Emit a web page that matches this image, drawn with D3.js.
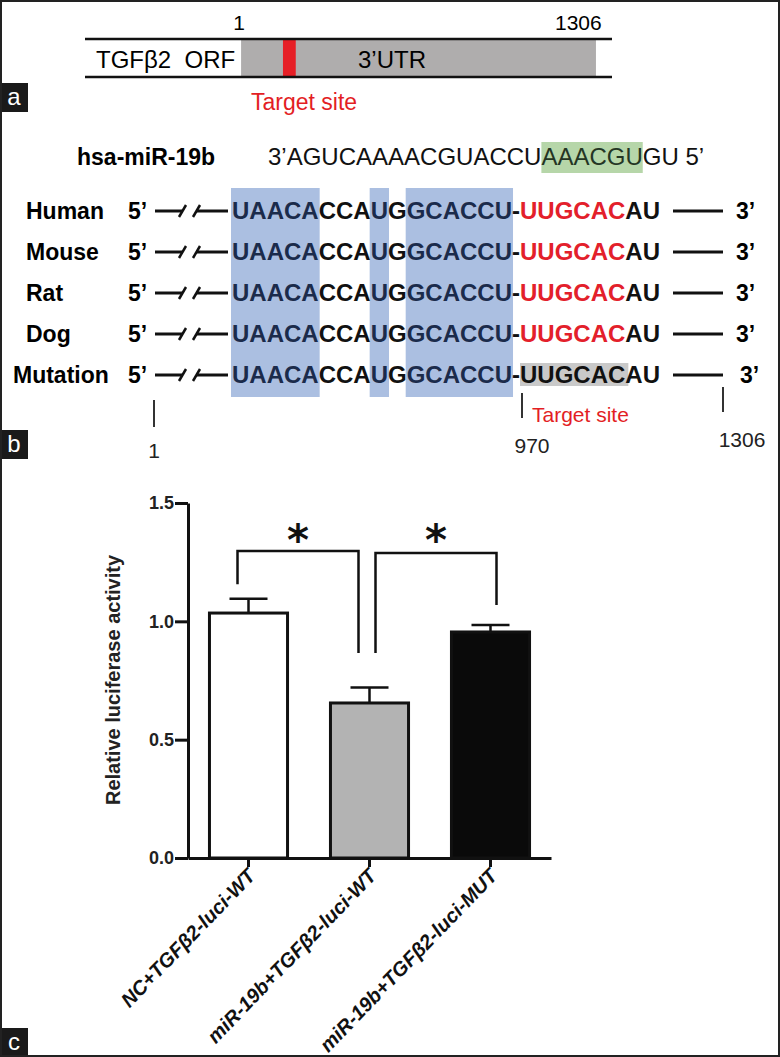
<!DOCTYPE html>
<html>
<head>
<meta charset="utf-8">
<script src="https://cdn.jsdelivr.net/npm/d3@7"></script>
<style>
body{margin:0;background:#fff;}
svg{display:block;font-family:"Liberation Sans",Arial,sans-serif;}
</style>
</head>
<body>
<div id="container"></div>
<script>
// ---- panel a data
const utrBounds=[1,1306];
const diagramExtent=[-573,1365];
const targetSpan=[155,202];
const orfLabel="TGFβ2  ORF";
const utrLabel="3’UTR";

// ---- panel b data
const species=["Human","Mouse","Rat","Dog","Mutation"];
const mirName="hsa-miR-19b";
const mirParts=["3’AGUCAAAACGUACCU","AAACGU","GU 5’"];
const utrParts=["UAACA","CCA","U","G","GCACCU","-","UUGCAC","AU"];
const utrRole=["cons","plain","cons","plain","cons","plain","seed","plain"];
const markerLabels=["1","970","1306"];

// ---- panel c data
const groups=["NC+TGFβ2-luci-WT","miR-19b+TGFβ2-luci-WT","miR-19b+TGFβ2-luci-MUT"];
const means=[1.035,0.655,0.955];
const sems=[0.06,0.065,0.03];
const barFills=["#ffffff","#b3b3b3","#0a0a0a"];
const yTicks=[0,0.5,1.0,1.5];
const pairs=[[0,1],[1,2]];
const bracketTop=[1.297,1.289];
const legLeft=[1.157,0.866];
const legRight=[0.866,1.069];
const starLevel=1.373;

const w=780, h=1057;
const svg=d3.select("#container").append("svg").attr("width",w).attr("height",h);
svg.append("rect").attr("width",w).attr("height",h).attr("fill","#fff");

function measure(str, size, weight){
	const t=svg.append("text").attr("font-size",size).attr("font-weight",weight).text(str);
	const len=t.node().getComputedTextLength();
	t.remove();
	return len;
}

//Panel a: gene diagram
const gx=d3.scaleLinear().domain(diagramExtent).range([85,612]);
const pa=svg.append("g");
pa.append("rect")
	.attr("x",gx(utrBounds[0])).attr("y",39)
	.attr("width",gx(utrBounds[1])-gx(utrBounds[0])).attr("height",38)
	.attr("fill","#afadad");
pa.append("rect")
	.attr("x",gx(targetSpan[0])).attr("y",39)
	.attr("width",gx(targetSpan[1])-gx(targetSpan[0])).attr("height",38)
	.attr("fill","#e61f26");
[39,77].forEach(yy=>{
	pa.append("line").attr("x1",gx(diagramExtent[0])).attr("x2",gx(diagramExtent[1]))
		.attr("y1",yy).attr("y2",yy).attr("stroke","#111").attr("stroke-width",2.5);
});
pa.append("text").attr("x",96).attr("y",68).attr("font-size",24).attr("xml:space","preserve").text(orfLabel);
pa.append("text").attr("x",358).attr("y",68).attr("font-size",24).text(utrLabel);
pa.append("text").attr("x",gx(utrBounds[0])-2).attr("y",30).attr("font-size",21).attr("text-anchor","middle").text(utrBounds[0]);
pa.append("text").attr("x",555).attr("y",30).attr("font-size",21).text(utrBounds[1]);
pa.append("text").attr("x",251).attr("y",110).attr("font-size",23).attr("fill","#e31e24").text("Target site");

//Panel b: alignment
const pb=svg.append("g");
const rowY=d3.scalePoint().domain(species).range([219,383]);
const seqX=232, seqSize=24;

// offsets of each part along the sequence
let acc=0;
const partX=utrParts.map(p=>{const x0=acc; acc+=measure(p,seqSize,"bold"); return x0;});
const partW=utrParts.map(p=>measure(p,seqSize,"bold"));

// conserved boxes over all rows
utrParts.forEach((p,i)=>{
	if(utrRole[i]!=="cons") return;
	pb.append("rect")
		.attr("x",seqX+partX[i]-1).attr("y",rowY(species[0])-31)
		.attr("width",partW[i]+2).attr("height",rowY(species[species.length-1])-rowY(species[0])+45)
		.attr("fill","#abbfe1");
});

// miRNA line
let mAcc=0;
const mirX=mirParts.map(p=>{const x0=mAcc; mAcc+=measure(p,24,"normal"); return x0;});
pb.append("rect")
	.attr("x",268+mirX[1]).attr("y",142)
	.attr("width",mirX[2]-mirX[1]).attr("height",31)
	.attr("fill","#b6d6a9");
mirParts.forEach((p,i)=>{
	pb.append("text").attr("x",268+mirX[i]).attr("y",165).attr("font-size",24)
		.attr("fill",i===1?"#243524":"#111").attr("xml:space","preserve").text(p);
});
pb.append("text").attr("x",77).attr("y",165).attr("font-size",23).attr("font-weight","bold").text(mirName);

species.forEach(sp=>{
	const by=rowY(sp);
	const mut=sp==="Mutation";
	pb.append("text").attr("x",mut?13:26).attr("y",by).attr("font-size",23).attr("font-weight","bold").text(sp);
	pb.append("text").attr("x",128).attr("y",by).attr("font-size",23).attr("font-weight","bold").text("5’");
	const ly=by-8;
	const g=pb.append("g").attr("stroke","#111").attr("stroke-width",3);
	g.append("line").attr("x1",155).attr("x2",183).attr("y1",ly).attr("y2",ly);
	g.append("line").attr("x1",179).attr("x2",186).attr("y1",ly+6).attr("y2",ly-6).attr("stroke-width",2.5);
	g.append("line").attr("x1",193).attr("x2",200).attr("y1",ly+6).attr("y2",ly-6).attr("stroke-width",2.5);
	g.append("line").attr("x1",196).attr("x2",228).attr("y1",ly).attr("y2",ly);
	g.append("line").attr("x1",673).attr("x2",723).attr("y1",ly).attr("y2",ly);
	pb.append("text").attr("x",mut?740:736).attr("y",by).attr("font-size",23).attr("font-weight","bold").text("3’");

	utrParts.forEach((p,i)=>{
		const role=utrRole[i];
		if(mut && role==="seed"){
			pb.append("rect").attr("x",seqX+partX[i]).attr("y",by-20)
				.attr("width",partW[i]+3).attr("height",23).attr("fill","#c9c9c9");
		}
		let col="#111";
		if(role==="cons") col="#1b2b4b";
		if(role==="seed" && !mut) col="#e3202b";
		pb.append("text").attr("x",seqX+partX[i]).attr("y",by)
			.attr("font-size",seqSize).attr("font-weight","bold").attr("fill",col).text(p);
	});
});

// position markers
const markers=[{x:154,y1:400,y2:427,ty:458,dx:0},{x:522,y1:393,y2:418,ty:453,dx:10},{x:723,y1:387,y2:412,ty:447,dx:19}];
markers.forEach((m,i)=>{
	pb.append("line").attr("x1",m.x).attr("x2",m.x).attr("y1",m.y1).attr("y2",m.y2)
		.attr("stroke","#333").attr("stroke-width",2);
	pb.append("text").attr("x",m.x+m.dx).attr("y",m.ty).attr("font-size",21)
		.attr("text-anchor","middle").attr("fill","#222").text(markerLabels[i]);
});
pb.append("text").attr("x",532).attr("y",422).attr("font-size",21).attr("fill","#e31e24").text("Target site");

//Panel c: bar chart
const pc=svg.append("g");
const y=d3.scaleLinear().domain([0,1.5]).range([858,503]);
const x=d3.scaleBand().domain(groups).range([188,551]).paddingInner(0.33).paddingOuter(0.165);

pc.selectAll("rect.bar")
	.data(groups)
	.enter()
	.append("rect")
		.attr("class","bar")
		.attr("x",d=>x(d)+1.5)
		.attr("y",(d,i)=>y(means[i]))
		.attr("width",x.bandwidth()-3)
		.attr("height",(d,i)=>y(0)-y(means[i]))
		.attr("fill",(d,i)=>barFills[i])
		.attr("stroke","#111").attr("stroke-width",3);

const err=pc.append("g").attr("stroke","#111").attr("stroke-width",2.5);
groups.forEach((d,i)=>{
	const cx=x(d)+x.bandwidth()/2;
	err.append("line").attr("x1",cx).attr("x2",cx).attr("y1",y(means[i])).attr("y2",y(means[i]+sems[i]));
	err.append("line").attr("x1",cx-19).attr("x2",cx+19).attr("y1",y(means[i]+sems[i])).attr("y2",y(means[i]+sems[i]));
});

const yAxis=d3.axisLeft(y).tickValues(yTicks).tickFormat(d3.format(".1f")).tickSize(13).tickSizeOuter(0);
const yAxisGroup=pc.append("g").attr("transform","translate(188,0)").call(yAxis);
yAxisGroup.select(".domain").attr("stroke","#111").attr("stroke-width",3);
yAxisGroup.selectAll(".tick line").attr("stroke","#111").attr("stroke-width",3);
yAxisGroup.selectAll(".tick text").attr("font-size",18).attr("font-weight","bold")
	.attr("font-family","Liberation Sans, Arial, sans-serif").attr("fill","#222").attr("x",-14);

const xAxis=d3.axisBottom(x).tickSize(9).tickSizeOuter(0);
const xAxisGroup=pc.append("g").attr("transform","translate(0,858)").call(xAxis);
xAxisGroup.select(".domain").attr("stroke","#111").attr("stroke-width",3);
xAxisGroup.selectAll(".tick line").attr("stroke","#111").attr("stroke-width",3);
xAxisGroup.selectAll(".tick text")
	.attr("font-size",20).attr("font-weight","bold").attr("font-style","italic")
	.attr("font-family","Liberation Sans, Arial, sans-serif").attr("fill","#111")
	.attr("x",0).attr("y",0).attr("dy","0.35em")
	.attr("transform","translate(3,14) rotate(-46)")
	.style("text-anchor","end");

pc.append("text")
	.attr("transform","translate(120,680) rotate(-90)")
	.attr("text-anchor","middle").attr("font-size",20).attr("font-weight","bold").attr("fill","#222")
	.text("Relative luciferase activity");

// significance brackets
const shift=[-11,6];
pairs.forEach((pr,k)=>{
	const xa=x(groups[pr[0]])+x.bandwidth()/2+shift[k];
	const xb=x(groups[pr[1]])+x.bandwidth()/2+shift[k];
	pc.append("path")
		.attr("d",`M${xa},${y(legLeft[k])}V${y(bracketTop[k])}H${xb}V${y(legRight[k])}`)
		.attr("fill","none").attr("stroke","#111").attr("stroke-width",2.5);
	pc.append("text").attr("x",(xa+xb)/2).attr("y",y(starLevel)+22)
		.attr("text-anchor","middle").attr("font-size",42).attr("font-weight","bold").attr("font-family","DejaVu Sans")
		.attr("fill","#111").text("*");
});

//Panel labels and frame
[["a",83],["b",430],["c",1028]].forEach(([lab,ty])=>{
	svg.append("rect").attr("x",0).attr("y",ty).attr("width",28).attr("height",29).attr("fill","#1a1a1a");
	svg.append("text").attr("x",14).attr("y",ty+22).attr("text-anchor","middle")
		.attr("font-size",24).attr("fill","#fff").text(lab);
});
svg.append("rect").attr("x",1).attr("y",1).attr("width",w-2).attr("height",h-2)
	.attr("fill","none").attr("stroke","#222").attr("stroke-width",2);
</script>
</body>
</html>
